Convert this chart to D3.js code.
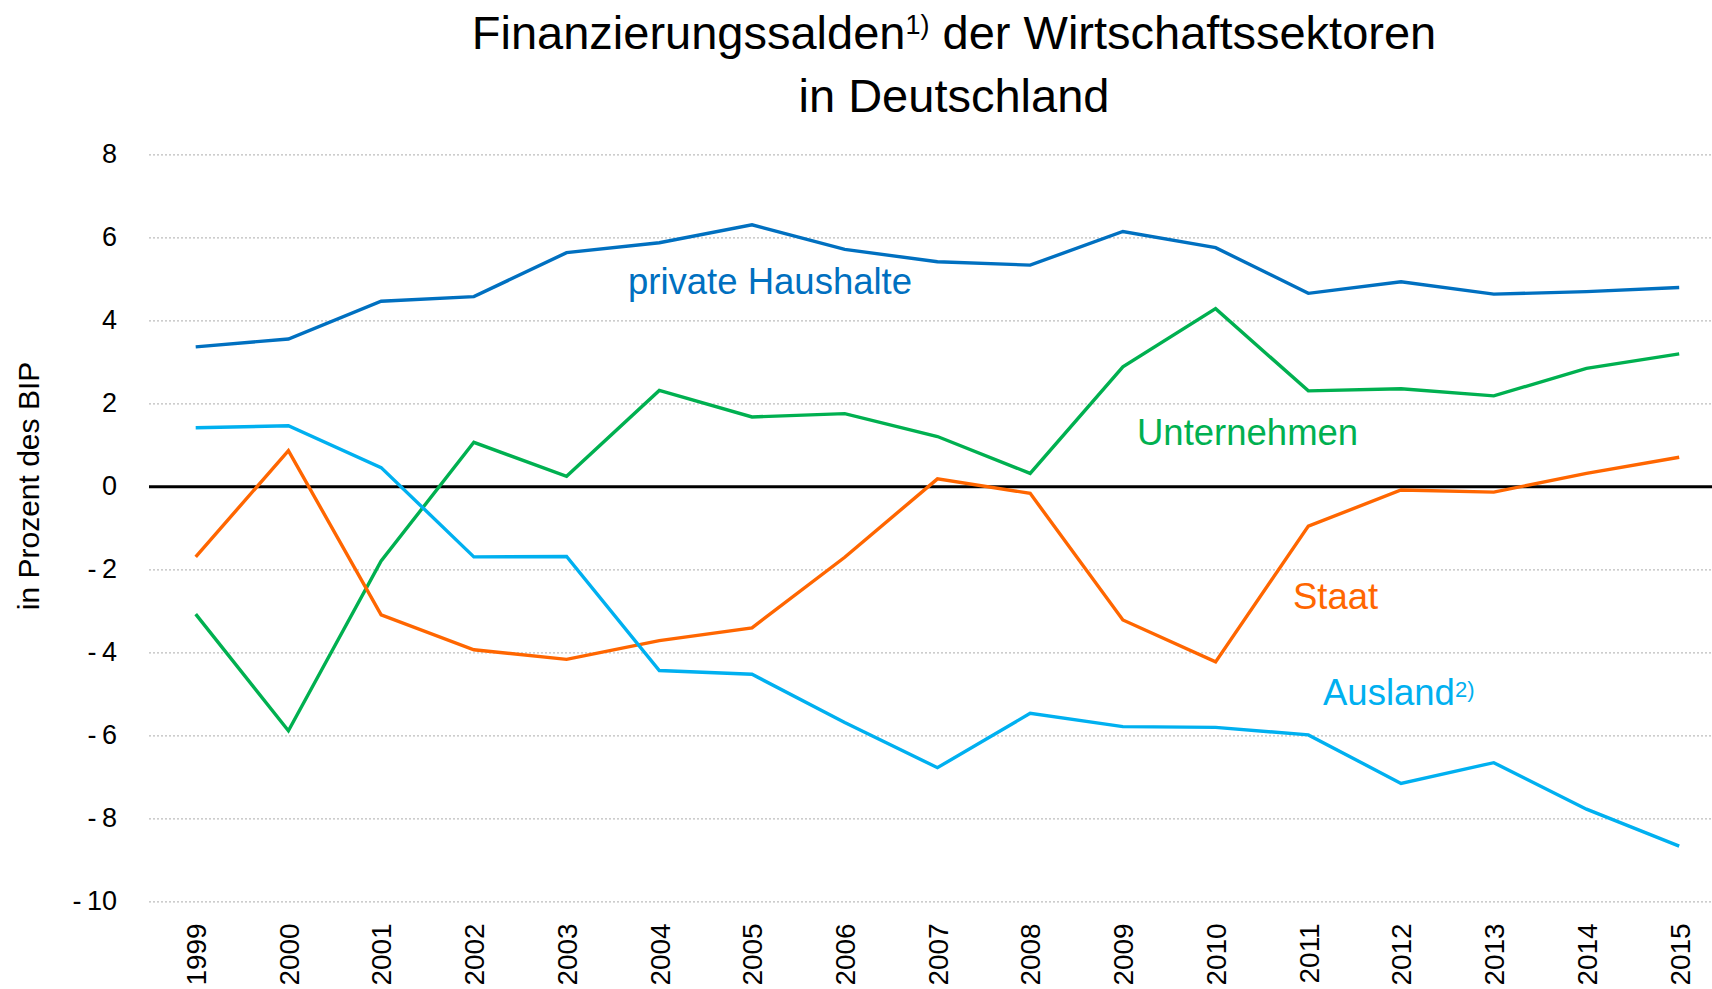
<!DOCTYPE html>
<html>
<head>
	<meta charset="utf-8">
	<title>Finanzierungssalden der Wirtschaftssektoren</title>
	<style>
		body{
			margin: 0;
			background: white;
		}
		svg{
			display: block;
			font-family: "Liberation Sans", Arial, Helvetica, sans-serif;
		}
		.grid line{
			stroke: #bdbdbd;
			stroke-width: 1.2;
			stroke-dasharray: 2,2;
		}
		.grid .zero line{
			stroke: black;
			stroke-width: 3;
			stroke-dasharray: none;
		}
		.series{
			fill: none;
			stroke-width: 3.4;
			stroke-linejoin: miter;
		}
	</style>
	<script src="https://cdn.jsdelivr.net/npm/d3@7/dist/d3.min.js"></script>
</head>
<body>
  <svg width="1712" height="989"></svg>
  <script>
    var years = [1999,2000,2001,2002,2003,2004,2005,2006,2007,2008,2009,2010,2011,2012,2013,2014,2015];

    var haushalte   = [3.36,3.55,4.46,4.57,5.63,5.87,6.30,5.71,5.41,5.33,6.14,5.75,4.65,4.93,4.63,4.69,4.79];
    var unternehmen = [-3.08,-5.89,-1.80,1.06,0.24,2.31,1.67,1.75,1.20,0.31,2.88,4.28,2.30,2.35,2.18,2.84,3.19];
    var staat       = [-1.70,0.86,-3.10,-3.94,-4.17,-3.72,-3.41,-1.71,0.18,-0.17,-3.22,-4.23,-0.96,-0.09,-0.14,0.31,0.70];
    var ausland     = [1.41,1.46,0.45,-1.70,-1.69,-4.44,-4.53,-5.69,-6.78,-5.47,-5.79,-5.81,-5.99,-7.16,-6.66,-7.78,-8.67];

    var yTicks = [-10,-8,-6,-4,-2,0,2,4,6,8];

    var series = [
      {name: "private Haushalte", values: haushalte,   color: "#0070c0"},
      {name: "Unternehmen",       values: unternehmen, color: "#00b050"},
      {name: "Staat",             values: staat,       color: "#ff6600"},
      {name: "Ausland",           values: ausland,     color: "#00b0f0"}
    ];

    var svg = d3.select("svg");
    var W = 1712;
    var left = 149;

    var x = d3.scaleLinear().domain([1999, 2015]).range([195.7, 1679.2]);
    var y = d3.scaleLinear().domain([-10, 8]).range([901.3, 154.3]);

    // title
    var t1 = svg.append("text")
        .attr("x", 954).attr("y", 49)
        .attr("text-anchor", "middle")
        .style("font-size", "47px");
    t1.append("tspan").text("Finanzierungssalden");
    t1.append("tspan").attr("dy", -15).style("font-size", "27px").text("1)");
    t1.append("tspan").attr("dy", 15).text(" der Wirtschaftssektoren");

    svg.append("text")
        .attr("x", 954).attr("y", 112)
        .attr("text-anchor", "middle")
        .style("font-size", "47px")
        .text("in Deutschland");

    // grid + y axis
    var gy = svg.append("g")
        .attr("class", "grid")
        .attr("transform", "translate(" + left + ",0)")
        .call(d3.axisLeft(y)
          .tickValues(yTicks)
          .tickSize(-(W - left))
          .tickPadding(32)
          .tickFormat(function(d){ return d < 0 ? "-\u2009" + Math.abs(d) : d; }));
    gy.select(".domain").remove();
    gy.selectAll(".tick").classed("zero", function(d){ return d === 0; });
    gy.selectAll("text")
        .style("font-size", "27px")
        .style("fill", "#000")
        .style("font-family", "inherit");

    // y axis title
    svg.append("text")
        .attr("transform", "translate(39,486) rotate(-90)")
        .attr("text-anchor", "middle")
        .style("font-size", "30px")
        .text("in Prozent des BIP");

    // x axis
    var gx = svg.append("g")
        .attr("transform", "translate(0," + y(-10) + ")")
        .call(d3.axisBottom(x)
          .tickValues(years)
          .tickSize(0)
          .tickFormat(d3.format("d")));
    gx.select(".domain").remove();
    gx.selectAll("text")
        .attr("transform", "rotate(-90)")
        .attr("text-anchor", "end")
        .attr("x", -22)
        .attr("y", 0)
        .attr("dy", "0.35em")
        .style("font-size", "28px")
        .style("fill", "#000")
        .style("font-family", "inherit");

    // lines
    var line = d3.line()
        .x(function(d, i){ return x(years[i]); })
        .y(function(d){ return y(d); });

    svg.selectAll(".series")
        .data(series)
        .enter().append("path")
        .attr("class", "series")
        .attr("d", function(d){ return line(d.values); })
        .style("stroke", function(d){ return d.color; });

    // labels
    var lab = svg.append("g").style("font-size", "36.5px");
    lab.append("text").attr("x", 628).attr("y", 294).style("fill", "#0070c0").text("private Haushalte");
    lab.append("text").attr("x", 1137).attr("y", 445).style("fill", "#00b050").text("Unternehmen");
    lab.append("text").attr("x", 1293).attr("y", 609).style("fill", "#ff6600").text("Staat");
    var au = lab.append("text").attr("x", 1323).attr("y", 705).style("fill", "#00b0f0");
    au.append("tspan").text("Ausland");
    au.append("tspan").attr("dy", -8).style("font-size", "22px").text("2)");
  </script>
</body>
</html>
